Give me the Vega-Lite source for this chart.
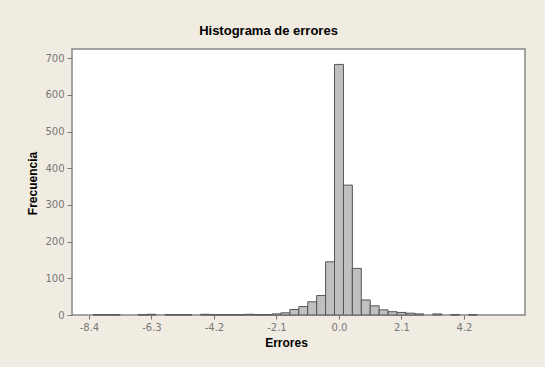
{
  "$schema": "https://vega.github.io/schema/vega-lite/v6.json",
  "width": 453,
  "height": 266,
  "autosize": "none",
  "padding": {"left": 72, "top": 49, "right": 20, "bottom": 52},
  "background": "#F0ECE1",
  "title": {
    "text": "Histograma de errores",
    "font": "Liberation Sans",
    "fontSize": 13,
    "fontWeight": "bold",
    "color": "#000000",
    "anchor": "middle",
    "dx": -30,
    "offset": 11
  },
  "data": {
    "values": [
      {"bin_start": -8.25, "bin_end": -7.95, "count": 1},
      {"bin_start": -7.95, "bin_end": -7.65, "count": 1},
      {"bin_start": -7.65, "bin_end": -7.35, "count": 1},
      {"bin_start": -6.75, "bin_end": -6.45, "count": 1},
      {"bin_start": -6.45, "bin_end": -6.15, "count": 2},
      {"bin_start": -5.85, "bin_end": -5.55, "count": 1},
      {"bin_start": -5.55, "bin_end": -5.25, "count": 1},
      {"bin_start": -5.25, "bin_end": -4.95, "count": 1},
      {"bin_start": -4.65, "bin_end": -4.35, "count": 2},
      {"bin_start": -4.35, "bin_end": -4.05, "count": 1},
      {"bin_start": -4.05, "bin_end": -3.75, "count": 1},
      {"bin_start": -3.75, "bin_end": -3.45, "count": 1},
      {"bin_start": -3.45, "bin_end": -3.15, "count": 1},
      {"bin_start": -3.15, "bin_end": -2.85, "count": 2},
      {"bin_start": -2.85, "bin_end": -2.55, "count": 1},
      {"bin_start": -2.55, "bin_end": -2.25, "count": 1},
      {"bin_start": -2.25, "bin_end": -1.95, "count": 3},
      {"bin_start": -1.95, "bin_end": -1.65, "count": 6},
      {"bin_start": -1.65, "bin_end": -1.35, "count": 15},
      {"bin_start": -1.35, "bin_end": -1.05, "count": 23},
      {"bin_start": -1.05, "bin_end": -0.75, "count": 36},
      {"bin_start": -0.75, "bin_end": -0.45, "count": 53},
      {"bin_start": -0.45, "bin_end": -0.15, "count": 145},
      {"bin_start": -0.15, "bin_end": 0.15, "count": 683},
      {"bin_start": 0.15, "bin_end": 0.45, "count": 354},
      {"bin_start": 0.45, "bin_end": 0.75, "count": 127},
      {"bin_start": 0.75, "bin_end": 1.05, "count": 41},
      {"bin_start": 1.05, "bin_end": 1.35, "count": 25},
      {"bin_start": 1.35, "bin_end": 1.65, "count": 14},
      {"bin_start": 1.65, "bin_end": 1.95, "count": 9},
      {"bin_start": 1.95, "bin_end": 2.25, "count": 7},
      {"bin_start": 2.25, "bin_end": 2.55, "count": 5},
      {"bin_start": 2.55, "bin_end": 2.85, "count": 3},
      {"bin_start": 3.15, "bin_end": 3.45, "count": 3},
      {"bin_start": 3.75, "bin_end": 4.05, "count": 1},
      {"bin_start": 4.35, "bin_end": 4.65, "count": 1}
    ]
  },
  "mark": {"type": "rect", "fill": "#C0C0C0", "stroke": "#555555", "strokeWidth": 1},
  "encoding": {
    "x": {
      "field": "bin_start",
      "type": "quantitative",
      "scale": {"domain": [-8.97, 6.25], "nice": false, "zero": false},
      "axis": {
        "title": "Errores",
        "values": [-8.4, -6.3, -4.2, -2.1, 0, 2.1, 4.2],
        "labelExpr": "replace(format(datum.value, '.1f'), '\u2212', '-')",
        "grid": false,
        "domain": false,
        "tickColor": "#777777",
        "tickSize": 4,
        "labelColor": "#777777",
        "labelFont": "DejaVu Sans",
        "labelFontSize": 10,
        "labelPadding": 3,
        "titleFont": "Liberation Sans",
        "titleFontSize": 12,
        "titleFontWeight": "bold",
        "titleColor": "#000000",
        "titleX": 214,
        "titleY": 27,
        "titleBaseline": "middle"
      }
    },
    "x2": {"field": "bin_end"},
    "y": {
      "field": "count",
      "type": "quantitative",
      "scale": {"domain": [0, 725], "nice": false},
      "axis": {
        "title": "Frecuencia",
        "values": [0, 100, 200, 300, 400, 500, 600, 700],
        "grid": false,
        "domain": false,
        "tickColor": "#777777",
        "tickSize": 5,
        "labelColor": "#777777",
        "labelFont": "DejaVu Sans",
        "labelFontSize": 10,
        "labelPadding": 3,
        "titleFont": "Liberation Sans",
        "titleFontSize": 12,
        "titleFontWeight": "bold",
        "titleColor": "#000000",
        "titleX": -40,
        "titleY": 134,
        "titleBaseline": "middle"
      }
    },
    "y2": {"datum": 0}
  },
  "config": {
    "view": {"fill": "#FFFFFF", "stroke": "#888888", "strokeWidth": 1.5}
  }
}
